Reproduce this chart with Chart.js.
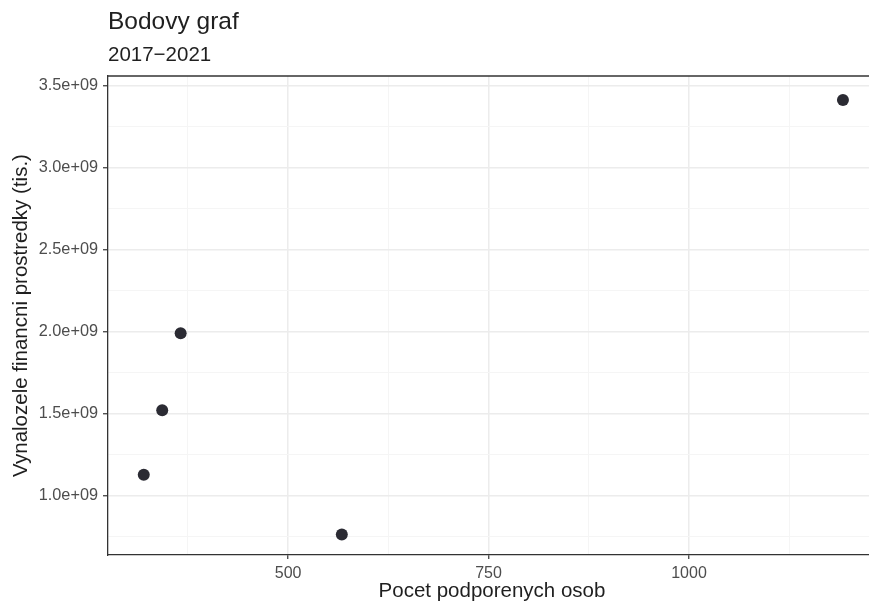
<!DOCTYPE html>
<html lang="cs">
<head>
<meta charset="UTF-8">
<title>Bodovy graf</title>
<script src="https://cdn.jsdelivr.net/npm/chart.js"></script>
<style>
  html, body { margin: 0; padding: 0; background: #fff; overflow: hidden; }
  #wrap { position: relative; width: 869px; height: 606px; overflow: hidden; }
  #myChart { position: absolute; left: 0; top: 0; }
  .title { position: absolute; left: 108px; font-family: "Liberation Sans", Arial, sans-serif; color: #1f1f1f; line-height: 1; white-space: nowrap; }
  #t1 { top: 9px; font-size: 24.5px; }
  #t2 { top: 44px; font-size: 20.5px; }
</style>
</head>
<body>
<div id="wrap">
  <canvas id="myChart" width="882" height="606"></canvas>
  <div class="title" id="t1">Bodovy graf</div>
  <div class="title" id="t2">2017−2021</div>
</div>
<script>
  // hodnoty
  const podporeni = [320, 343, 366, 567, 1192];
  const vynalozeno = [1.128e9, 1.52e9, 1.99e9, 0.763e9, 3.413e9];

  const xMajor = [500, 750, 1000];
  const xMinor = [375, 625, 875, 1125];
  const yMajor = [1.0e9, 1.5e9, 2.0e9, 2.5e9, 3.0e9, 3.5e9];
  const yMinor = [0.75e9, 1.25e9, 1.75e9, 2.25e9, 2.75e9, 3.25e9];

  const font = '"Liberation Sans", Arial, sans-serif';
  const points = podporeni.map((x, i) => ({ x: x, y: vynalozeno[i] }));

  function sci(v) {
    return v.toExponential(1).replace(/e\+(\d)$/, 'e+0$1');
  }

  // horni okraj panelu (theme_bw)
  const panelTop = {
    id: 'panelTop',
    afterDraw(chart) {
      const { ctx, chartArea } = chart;
      ctx.save();
      ctx.strokeStyle = '#333';
      ctx.lineWidth = 1.3;
      ctx.beginPath();
      ctx.moveTo(chartArea.left, chartArea.top);
      ctx.lineTo(chartArea.right, chartArea.top);
      ctx.stroke();
      ctx.restore();
    }
  };

  const ctx = document.getElementById('myChart').getContext('2d');
  new Chart(ctx, {
    type: 'scatter',
    data: {
      datasets: [{
        data: points,
        backgroundColor: '#2b2b33',
        borderWidth: 0,
        pointRadius: 6,
        pointHoverRadius: 6
      }]
    },
    options: {
      responsive: false,
      animation: false,
      layout: { padding: { top: 76, right: 2, left: 0, bottom: 0 } },
      plugins: { legend: { display: false }, tooltip: { enabled: false } },
      scales: {
        x: {
          type: 'linear',
          min: 275.4,
          max: 1233.2,
          afterBuildTicks: s => { s.ticks = [...xMinor, ...xMajor].sort((a, b) => a - b).map(v => ({ value: v })); },
          afterFit: s => { s.height = 51; },
          ticks: {
            autoSkip: false,
            padding: 5,
            color: '#4d4d4d',
            font: { family: font, size: 16 },
            callback: v => xMajor.includes(v) ? String(v) : ''
          },
          grid: {
            color: c => xMajor.includes(c.tick.value) ? '#ececec' : '#f5f5f5',
            lineWidth: c => xMajor.includes(c.tick.value) ? 1.5 : 1,
            tickColor: c => xMajor.includes(c.tick.value) ? '#333' : 'rgba(0,0,0,0)',
            tickLength: 4,
            tickWidth: 1.2
          },
          border: { display: true, color: '#333', width: 1.3 },
          title: {
            display: true,
            text: 'Pocet podporenych osob',
            color: '#1f1f1f',
            font: { family: font, size: 20.5 },
            padding: { top: 0, bottom: 2 }
          }
        },
        y: {
          type: 'linear',
          min: 0.638e9,
          max: 3.559e9,
          afterBuildTicks: s => { s.ticks = [...yMinor, ...yMajor].sort((a, b) => a - b).map(v => ({ value: v })); },
          afterFit: s => { s.width = 108; },
          ticks: {
            autoSkip: false,
            padding: 5,
            color: '#4d4d4d',
            font: { family: font, size: 16.3 },
            callback: v => yMajor.includes(v) ? sci(v) : ''
          },
          grid: {
            color: c => yMajor.includes(c.tick.value) ? '#ececec' : '#f5f5f5',
            lineWidth: c => yMajor.includes(c.tick.value) ? 1.5 : 1,
            tickColor: c => yMajor.includes(c.tick.value) ? '#333' : 'rgba(0,0,0,0)',
            tickLength: 5,
            tickWidth: 1.2
          },
          border: { display: true, color: '#333', width: 1.3 },
          title: {
            display: true,
            text: 'Vynalozele financni prostredky (tis.)',
            color: '#1f1f1f',
            font: { family: font, size: 20.5 },
            padding: { top: 9, bottom: 0 }
          }
        }
      }
    },
    plugins: [panelTop]
  });
</script>
</body>
</html>
